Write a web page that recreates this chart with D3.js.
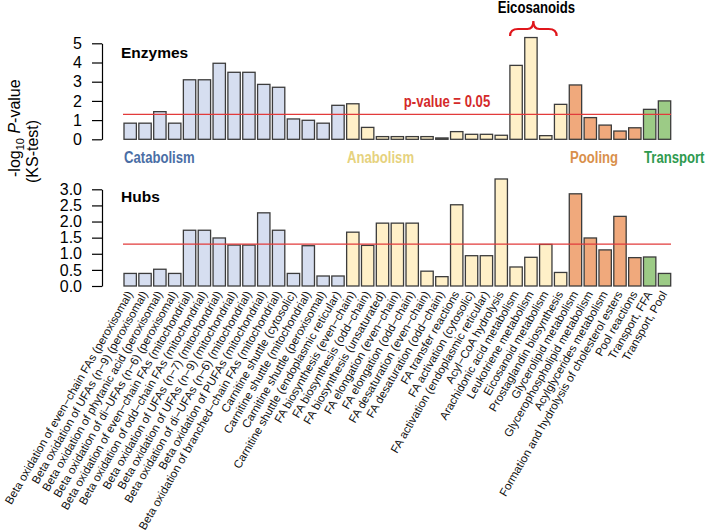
<!DOCTYPE html>
<html>
<head>
<meta charset="utf-8">
<script src="https://cdn.jsdelivr.net/npm/d3@7"></script>
<style>
  body { margin: 0; background: #fff; }
  text { font-family: "Liberation Sans", Arial, sans-serif; }
  .narrow { font-weight: bold; }
</style>
</head>
<body>
<script>
var pathways = [
  "Beta oxidation of even\u2212chain FAs (peroxisomal)",
  "Beta oxidation of UFAs (n\u22129) (peroxisomal)",
  "Beta oxidation of phytanic acid (peroxisomal)",
  "Beta oxidation of di\u2212UFAs (n\u22126) (peroxisomal)",
  "Beta oxidation of even\u2212chain FAs (mitochondrial)",
  "Beta oxidation of odd\u2212chain FAs (mitochondrial)",
  "Beta oxidation of UFAs (n\u22127) (mitochondrial)",
  "Beta oxidation of UFAs (n\u22129) (mitochondrial)",
  "Beta oxidation of di\u2212UFAs (n\u22126) (mitochondrial)",
  "Beta oxidation of PUFAs (mitochondrial)",
  "Beta oxidation of branched\u2212chain FAs (mitochondrial)",
  "Carnitine shuttle (cytosolic)",
  "Carnitine shuttle (mitochondrial)",
  "Carnitine shuttle (peroxisomal)",
  "Carnitine shuttle (endoplasmic reticular)",
  "FA biosynthesis (even\u2212chain)",
  "FA biosynthesis (odd\u2212chain)",
  "FA biosynthesis (unsaturated)",
  "FA elongation (even\u2212chain)",
  "FA elongation (odd\u2212chain)",
  "FA desaturation (even\u2212chain)",
  "FA desaturation (odd\u2212chain)",
  "FA transfer reactions",
  "FA activation (cytosolic)",
  "FA activation (endoplasmic reticular)",
  "Acyl\u2212CoA hydrolysis",
  "Arachidonic acid metabolism",
  "Leukotriene metabolism",
  "Eicosanoid metabolism",
  "Prostaglandin biosynthesis",
  "Glycerolipid metabolism",
  "Glycerophospholipid metabolism",
  "Acylglycerides metabolism",
  "Formation and hydrolysis of cholesterol esters",
  "Pool reactions",
  "Transport, FFA",
  "Transport, Pool"
];

// group of each pathway
var groups = [
  "Catabolism","Catabolism","Catabolism","Catabolism","Catabolism",
  "Catabolism","Catabolism","Catabolism","Catabolism","Catabolism",
  "Catabolism","Catabolism","Catabolism","Catabolism","Catabolism",
  "Anabolism","Anabolism","Anabolism","Anabolism","Anabolism",
  "Anabolism","Anabolism","Anabolism","Anabolism","Anabolism",
  "Anabolism","Anabolism","Anabolism","Anabolism","Anabolism",
  "Pooling","Pooling","Pooling","Pooling","Pooling",
  "Transport","Transport"
];

var enzymes = [0.84,0.84,1.44,0.84,3.10,3.10,3.96,3.49,3.49,2.86,2.71,1.06,0.99,0.84,1.77,
               1.85,0.62,0.14,0.14,0.14,0.14,0.07,0.40,0.26,0.26,0.21,3.85,5.30,0.19,1.82,
               2.83,1.13,0.74,0.43,0.60,1.56,2.00];

var hubs = [0.39,0.39,0.52,0.39,1.73,1.73,1.49,1.27,1.27,2.27,1.73,0.39,1.25,0.31,0.31,
            1.67,1.26,1.95,1.95,1.95,0.46,0.29,2.52,0.94,0.94,3.32,0.59,0.89,1.29,0.42,
            2.86,1.49,1.12,2.16,0.88,0.90,0.39];

var groupNames = ["Catabolism","Anabolism","Pooling","Transport"];
var groupFill = ["#d6def0","#fff0c8","#f0a97c","#9ccb86"];
var groupText = ["#4a6ea5","#e6d27e","#d9904c","#2f9a4f"];

var enzymeTicks = [0,1,2,3,4,5];
var hubTicks = [0,0.5,1,1.5,2,2.5,3];
var cutoff = -Math.log10(0.05);

var w = 711, h = 531;
var squeeze = 0.82; // condensed look for the bold annotations

var svg = d3.select("body")
            .append("svg")
            .attr("width", w)
            .attr("height", h);

var x = d3.scaleBand()
          .domain(d3.range(pathways.length))
          .range([124, 670.7])
          .paddingInner(1/6)
          .paddingOuter(0);

var fill = d3.scaleOrdinal().domain(groupNames).range(groupFill);
var textCol = d3.scaleOrdinal().domain(groupNames).range(groupText);

function panel(values, y, ticks, fmt) {
  var g = svg.append("g");

  g.selectAll("rect")
    .data(values)
    .enter()
    .append("rect")
    .attr("x", function(d, i){ return x(i); })
    .attr("y", function(d){ return y(d); })
    .attr("width", x.bandwidth())
    .attr("height", function(d){ return y(0) - y(d); })
    .attr("fill", function(d, i){ return fill(groups[i]); })
    .attr("stroke", "#3c3c3c")
    .attr("stroke-width", 1.3);

  g.append("line")
    .attr("x1", 123).attr("x2", 671)
    .attr("y1", y(cutoff)).attr("y2", y(cutoff))
    .attr("stroke", "#e23b3b")
    .attr("stroke-width", 1.2);

  var axis = d3.axisLeft(y)
               .tickValues(ticks)
               .tickFormat(fmt)
               .tickSize(10)
               .tickSizeOuter(0)
               .tickPadding(10);

  var ax = g.append("g")
            .attr("transform", "translate(102,0)")
            .call(axis);
  ax.selectAll("path, line").attr("stroke", "#000").attr("stroke-width", 1.2);
  ax.selectAll("text").attr("font-size", 16).attr("fill", "#000")
    .style("font-family", "'Liberation Sans', Arial, sans-serif");
  return g;
}

var yTop = d3.scaleLinear().domain([0, 5]).range([139.3, 43.3]);
var yBot = d3.scaleLinear().domain([0, 3]).range([286, 189.3]);

panel(enzymes, yTop, enzymeTicks, d3.format("d"));
panel(hubs, yBot, hubTicks, d3.format(".1f"));

// panel titles
svg.append("text").attr("x", 121).attr("y", 58)
   .attr("font-size", 15.5).attr("font-weight", "bold").text("Enzymes");
svg.append("text").attr("x", 121).attr("y", 202)
   .attr("font-size", 15.5).attr("font-weight", "bold").text("Hubs");

function narrowText(x0, y0, anchor, color, str) {
  return svg.append("text")
    .attr("class", "narrow")
    .attr("transform", "translate(" + x0 + "," + y0 + ") scale(" + squeeze + ",1)")
    .attr("text-anchor", anchor)
    .attr("font-size", 16)
    .attr("fill", color)
    .text(str);
}

// group labels
var groupLabelX = [124, 347, 570, 644];
groupNames.forEach(function(d, i){
  narrowText(groupLabelX[i], 163, "start", textCol(d), d);
});

// p-value label
narrowText(447, 107, "middle", "#d42a2a", "p-value = 0.05");

// eicosanoids brace
var bx0 = x(26) + x.bandwidth() / 2 - 6, bx1 = x(29) + x.bandwidth() / 2 - 4;
var bm = (bx0 + bx1) / 2;
svg.append("path")
   .attr("d", "M" + bx0 + ",36 Q" + bx0 + ",29 " + (bx0 + 8) + ",29 L" + (bm - 6) + ",29 Q" + bm + ",29 " + bm + ",21"
        + " Q" + bm + ",29 " + (bm + 6) + ",29 L" + (bx1 - 8) + ",29 Q" + bx1 + ",29 " + bx1 + ",36")
   .attr("fill", "none")
   .attr("stroke", "#e0161b")
   .attr("stroke-width", 2.2);

narrowText(bm + 3, 13, "middle", "#000", "Eicosanoids");

// x labels
svg.selectAll(".xlab")
   .data(pathways)
   .enter()
   .append("text")
   .attr("transform", function(d, i){
     return "translate(" + (x(i) + x.bandwidth() / 2 + 3) + ",294) rotate(-60)";
   })
   .attr("text-anchor", "end")
   .attr("font-size", 11.5)
   .attr("fill", "#111")
   .text(function(d){ return d; });

// y axis title
var yl = svg.append("text")
   .attr("transform", "translate(20,177) rotate(-90)")
   .attr("font-size", 16);
yl.append("tspan").text("-log");
yl.append("tspan").attr("font-size", 11).attr("dy", 4).text("10");
yl.append("tspan").attr("dy", -4).text(" ");
yl.append("tspan").attr("font-style", "italic").text("P");
yl.append("tspan").text("-value");

svg.append("text")
   .attr("transform", "translate(38,183) rotate(-90)")
   .attr("font-size", 16)
   .text("(KS-test)");
</script>
</body>
</html>
